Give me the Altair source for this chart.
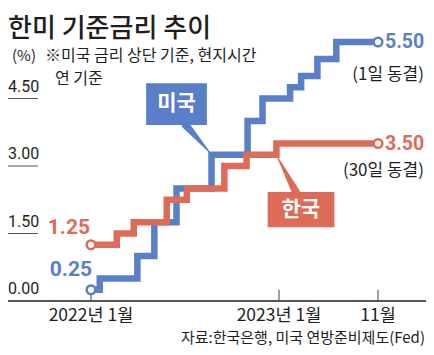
import altair as alt
import pandas as pd

# ---------------- data ----------------
us_dates = ["2022-01-01", "2022-01-18", "2022-04-01", "2022-05-04", "2022-06-16",
            "2022-08-23", "2022-11-01", "2022-11-30", "2023-02-04", "2023-03-10",
            "2023-04-29", "2023-06-26", "2023-11-01"]
us_rates = [0.25, 0.50, 1.00, 1.75, 2.50, 3.25, 4.00, 4.50, 4.75, 5.00, 5.25, 5.50, 5.50]

kr_dates = ["2022-01-01", "2022-02-20", "2022-03-25", "2022-05-28", "2022-07-06",
            "2022-09-17", "2022-10-30", "2022-12-27", "2023-11-01"]
kr_rates = [1.25, 1.50, 1.75, 2.25, 2.50, 3.00, 3.25, 3.50, 3.50]

x_tick_dates = ["2022-01-01", "2023-01-01", "2023-11-01"]
x_tick_labels = ["2022년 1월", "2023년 1월", "11월"]
y_tick_values = [0.0, 1.5, 3.0, 4.5]
y_tick_labels = ["0.00", "1.50", "3.00", "4.50"]

series_names = ["미국", "한국"]
end_notes = ["(1일 동결)", "(30일 동결)"]
title_text = "한미 기준금리 추이"
unit_text = "(%)"
note_lines = ["※미국 금리 상단 기준, 현지시간", "연 기준"]
source_text = "자료:한국은행, 미국 연방준비제도(Fed)"

# ---------------- style ----------------
BLUE = "#5a7fc9"
RED = "#de6b57"
INK = "#1e1e1e"
KFONT = "Noto Sans CJK KR"
NFONT = "Roboto"
W, H = 418, 303


def ts(s):
    """date string -> epoch milliseconds (UTC)"""
    return int(pd.Timestamp(s, tz="UTC").value // 10**6)


# piecewise time axis (the graphic compresses 2023)
xscale = alt.Scale(domain=[ts(d) for d in x_tick_dates], range=[83, 271, 370],
                   nice=False, zero=False)
yscale = alt.Scale(domain=[0, 5, 5.5], range=[257, 32, -2], nice=False, zero=False)


def X(f="t"):
    return alt.X(f"{f}:Q", scale=xscale, axis=None)


def Y(f="rate"):
    return alt.Y(f"{f}:Q", scale=yscale, axis=None)


us_df = pd.DataFrame({"date": us_dates, "rate": us_rates})
kr_df = pd.DataFrame({"date": kr_dates, "rate": kr_rates})
us_df["t"] = us_df.date.map(ts)
kr_df["t"] = kr_df.date.map(ts)
us_ends = us_df.iloc[[0, -1]]
kr_ends = kr_df.iloc[[0, -1]]

layers = []

# axis base line
layers.append(
    alt.Chart(pd.DataFrame({"v": [0.0]})).mark_rule(color=INK, strokeWidth=1.3)
    .encode(x=alt.value(0), x2=alt.value(W), y=Y("v"))
)
# short y grid stubs + labels
ydf = pd.DataFrame({"v": y_tick_values, "lab": y_tick_labels})
layers.append(
    alt.Chart(ydf[ydf.v > 0]).mark_rule(color="#555", strokeWidth=1)
    .encode(x=alt.value(0), x2=alt.value(30), y=Y("v"))
)
layers.append(
    alt.Chart(ydf).mark_text(font=NFONT, fontSize=16, color=INK, align="left", dy=-12)
    .encode(x=alt.value(0), y=Y("v"), text="lab:N")
)
# x ticks + labels
xdf = pd.DataFrame({"date": x_tick_dates, "lab": x_tick_labels})
xdf["t"] = xdf.date.map(ts)
layers.append(
    alt.Chart(xdf).mark_rule(color="#444", strokeWidth=1)
    .encode(x=X(), y=alt.Y(datum=0, scale=yscale, axis=None), y2=alt.Y2(datum=0.25))
)
layers.append(
    alt.Chart(xdf).mark_text(font=KFONT, fontSize=17.5, color=INK, dy=15)
    .encode(x=X(), y=alt.Y(datum=0, scale=yscale, axis=None), text="lab:N")
)

# step lines (Korea drawn on top)
layers.append(
    alt.Chart(us_df).mark_line(interpolate="step-after", strokeWidth=6.5, color=BLUE,
                               strokeJoin="miter", strokeCap="butt")
    .encode(x=X(), y=Y())
)
layers.append(
    alt.Chart(kr_df).mark_line(interpolate="step-after", strokeWidth=6.5, color=RED,
                               strokeJoin="miter", strokeCap="butt")
    .encode(x=X(), y=Y())
)
for ends, col in [(us_ends, BLUE), (kr_ends, RED)]:
    layers.append(
        alt.Chart(ends).mark_point(filled=True, fill="white", stroke=col, strokeWidth=2.5,
                                   size=75, opacity=1, shape="circle")
        .encode(x=X(), y=Y())
    )

# label boxes with pointers
boxes = pd.DataFrame({
    "name": series_names,
    "x": ["2022-04-18", "2022-12-10"], "x2": ["2022-08-14", "2023-06-20"],
    "y": [3.91, 1.64], "y2": [4.84, 2.42],
    "cx": ["2022-06-16", "2023-03-09"], "cy": [4.38, 2.03],
})
for c in ["x", "x2", "cx"]:
    boxes[c] = boxes[c].map(ts)
ptr_us = pd.DataFrame({"date": ["2022-07-04", "2022-08-19"], "rate": [3.91, 3.31],
                       "w": [8, 1], "o": [0, 1]})
ptr_kr = pd.DataFrame({"date": ["2023-02-22", "2022-12-29"], "rate": [2.42, 3.2],
                       "w": [8, 1], "o": [0, 1]})
for p in (ptr_us, ptr_kr):
    p["t"] = p.date.map(ts)
for i, (col, ptr) in enumerate([(BLUE, ptr_us), (RED, ptr_kr)]):
    layers.append(
        alt.Chart(ptr).mark_trail(color=col)
        .encode(x=X(), y=Y(), size=alt.Size("w:Q", scale=None, legend=None), order="o:Q")
    )
    b = boxes.iloc[[i]]
    layers.append(
        alt.Chart(b).mark_rect(color=col)
        .encode(x=X("x"), x2="x2:Q", y=Y("y"), y2="y2:Q")
    )
    layers.append(
        alt.Chart(b).mark_text(font=KFONT, fontSize=21, fontWeight="bold", color="white")
        .encode(x=X("cx"), y=Y("cy"), text="name:N")
    )


# value labels
def val_label(df, col, align, dx, dy, size=21):
    d = df.assign(lab=df.rate.map(lambda v: f"{v:.2f}"))
    return alt.Chart(d).mark_text(font=NFONT, fontSize=size, fontWeight="bold", color=col,
                                  align=align, dx=dx, dy=dy).encode(x=X(), y=Y(), text="lab:N")


layers.append(val_label(us_ends.iloc[[0]], BLUE, "right", 1, -20))
layers.append(val_label(kr_ends.iloc[[0]], RED, "right", -1, -17))
layers.append(val_label(us_ends.iloc[[1]], BLUE, "left", 7, 0, 19.5))
layers.append(val_label(kr_ends.iloc[[1]], RED, "left", 7, 0, 19.5))
for ends, note, dy in [(us_ends, end_notes[0], 33), (kr_ends, end_notes[1], 27)]:
    layers.append(
        alt.Chart(ends.iloc[[1]].assign(lab=note)).mark_text(
            font=KFONT, fontSize=17, color=INK, align="right", dx=46, dy=dy)
        .encode(x=X(), y=Y(), text="lab:N")
    )


# header / footer texts
def free_text(txt, x, y, size, align="left", weight="normal", color=INK, font=KFONT):
    return alt.Chart(pd.DataFrame({"lab": [txt]})).mark_text(
        font=font, fontSize=size, fontWeight=weight, color=color, align=align
    ).encode(x=alt.value(x), y=alt.value(y), text="lab:N")


layers.append(free_text(title_text, 0, -15.5, 26, weight=500))
layers.append(free_text(unit_text, 4, 12, 15))
layers.append(free_text(note_lines[0], 37, 12, 16))
layers.append(free_text(note_lines[1], 47, 35, 16))
layers.append(free_text(source_text, 417, 294, 15, align="right"))

chart = alt.layer(*layers).properties(
    width=W, height=H,
    autosize=alt.AutoSizeParams(type="none"),
    padding={"left": 0, "top": 36, "right": 0, "bottom": 0},
    background="white",
).configure_view(stroke=None)

chart.save("out.html", embed_options={"renderer": "svg", "actions": False})
